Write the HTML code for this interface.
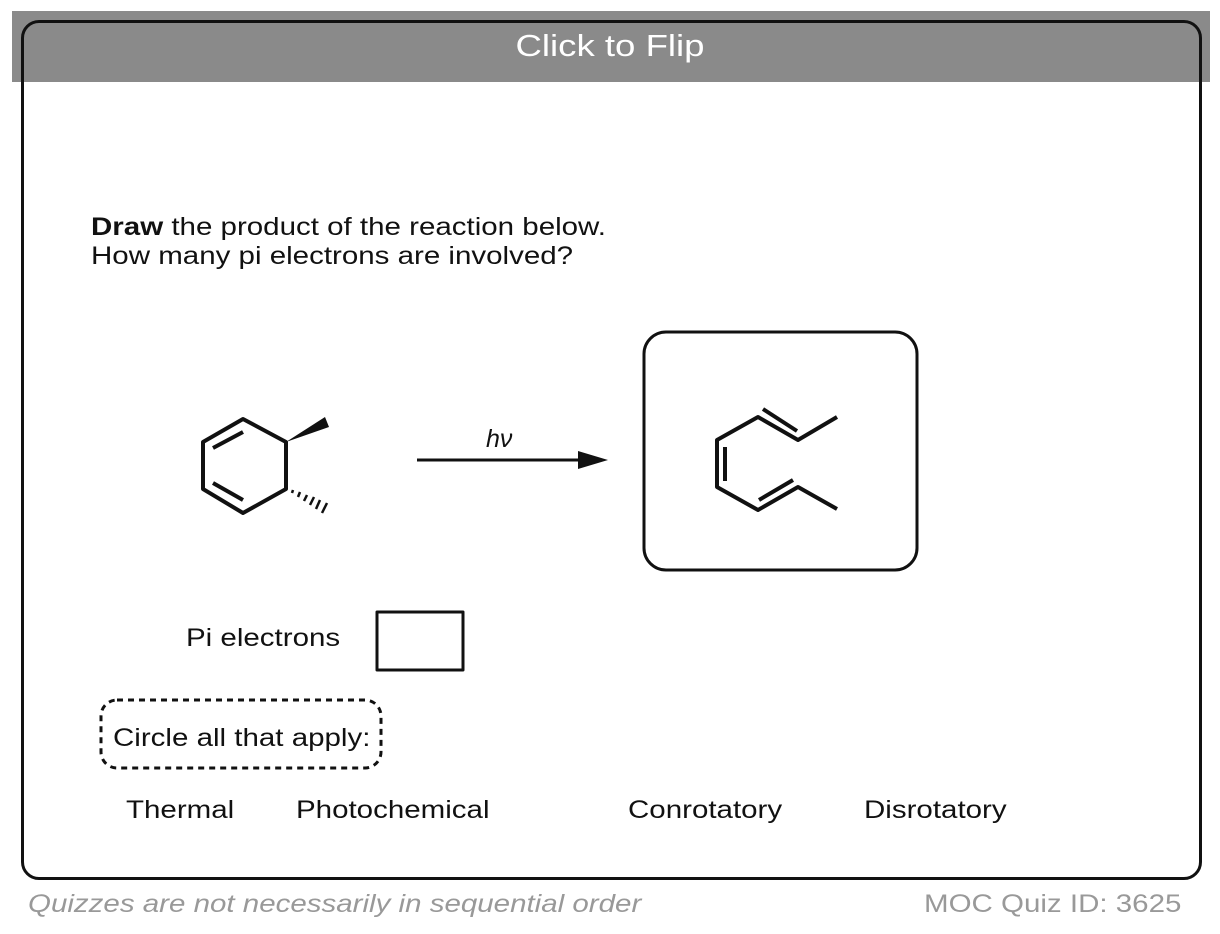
<!DOCTYPE html>
<html><head><style>
body{margin:0;width:1220px;height:934px;background:#fff;position:relative;font-family:"Liberation Sans",sans-serif;overflow:hidden}
.card{position:absolute;left:21px;top:20px;width:1181px;height:860px;border:3px solid #111;border-radius:18px;box-sizing:border-box;z-index:2}
.bar{position:absolute;left:12px;top:11px;width:1198px;height:71px;background:#8a8a8a}
.bt{position:absolute;left:610px;top:11px;color:#fff;font-size:31px;line-height:70px;white-space:nowrap;transform:translateX(-50%) scaleX(1.18);z-index:3}
.t{position:absolute;font-size:25px;color:#111;white-space:nowrap;transform:scaleX(1.18);transform-origin:0 0}
</style></head><body>
<div class="bar"></div>
<div class="card"></div>
<div class="bt">Click to Flip</div>
<div class="t" style="left:91px;top:213px;line-height:29px"><b>Draw</b> the product of the reaction below.<br>How many pi electrons are involved?</div>
<svg width="1220" height="934" style="position:absolute;left:0;top:0">
<g stroke="#111" stroke-width="4" fill="none" stroke-linejoin="round">
<polygon points="243,419 286,442 286,489 243,513 203,489 203,442"/>
<line x1="213" y1="448" x2="243" y2="432"/>
<line x1="213" y1="483" x2="243" y2="500"/>
<polyline points="837,417 798,440 758,417 717,440 717,487 758,510 798,487 837,509"/>
<line x1="763" y1="409" x2="797" y2="431"/>
<line x1="725" y1="447" x2="725" y2="481"/>
<line x1="759" y1="500" x2="793" y2="480"/>
<line x1="417" y1="460" x2="585" y2="460" stroke-width="3"/>
<rect x="644" y="332" width="273" height="238" rx="22" stroke-width="3"/>
<rect x="377" y="612" width="86" height="58" stroke-width="3"/>
<rect x="101" y="700" width="280" height="68" rx="16" stroke-width="3" stroke-dasharray="6,5"/>
</g>
<polygon points="286,442 325,417 329,427" fill="#111"/>
<g stroke="#111" stroke-width="2.5">
<line x1="292" y1="493" x2="293" y2="490"/><line x1="298" y1="497" x2="300" y2="492"/><line x1="304" y1="501" x2="307" y2="495"/><line x1="310" y1="505" x2="314" y2="497"/><line x1="316" y1="509" x2="320" y2="500"/><line x1="322" y1="513" x2="327" y2="503"/>
</g>
<polygon points="608,460 578,451 578,469" fill="#111"/>
<text x="486" y="447" font-family="Liberation Sans" font-style="italic" font-size="25" fill="#111">hν</text>
</svg>
<div class="t" style="left:186px;top:624px">Pi electrons</div>
<div class="t" style="left:113px;top:724px">Circle all that apply:</div>
<div class="t" style="left:126px;top:796px">Thermal</div>
<div class="t" style="left:296px;top:796px">Photochemical</div>
<div class="t" style="left:628px;top:796px">Conrotatory</div>
<div class="t" style="left:864px;top:796px">Disrotatory</div>
<div class="t" style="left:28px;top:890px;color:#999;font-style:italic">Quizzes are not necessarily in sequential order</div>
<div class="t" style="left:924px;top:890px;color:#999">MOC Quiz ID: 3625</div>
</body></html>
